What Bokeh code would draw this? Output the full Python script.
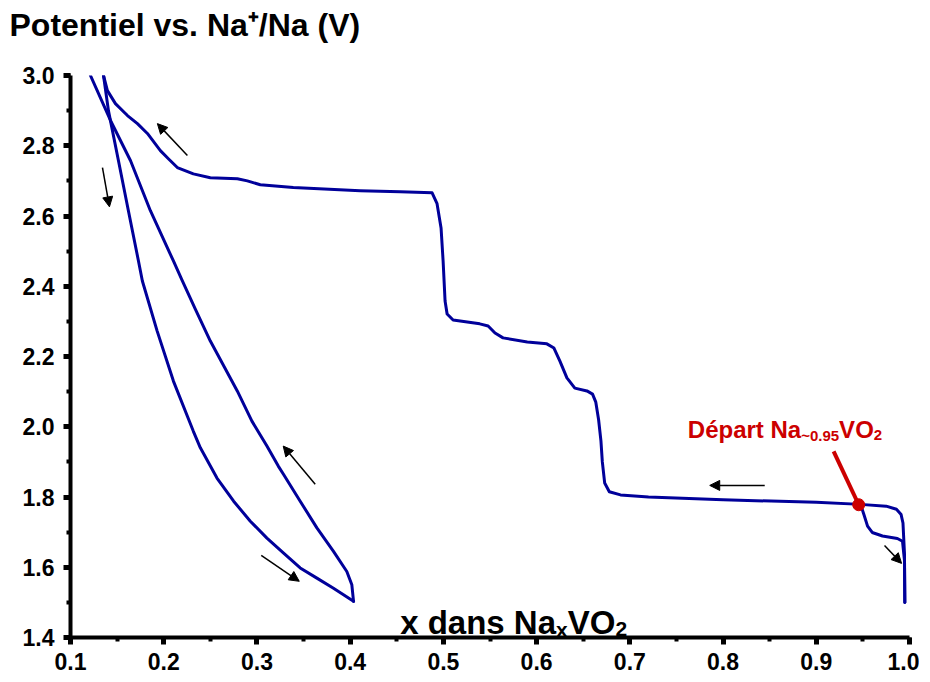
from bokeh.plotting import figure
from bokeh.models import (Range1d, SingleIntervalTicker, NumeralTickFormatter, Label,
                          Arrow, NormalHead, Title)
from bokeh.embed import file_html
from bokeh.resources import INLINE

# ---------------- data ----------------
# initial discharge from the starting composition (Na~0.95VO2) to 1.5 V
dis1_x = [0.9475, 0.951, 0.955, 0.960, 0.971, 0.987, 0.9925, 0.9946, 0.995]
dis1_y = [1.779, 1.751, 1.717, 1.699, 1.689, 1.682, 1.674, 1.620, 1.500]

# first charge (1.5 V -> 3.0 V)
ch1_x = [0.995, 0.9946, 0.993, 0.991, 0.986, 0.975, 0.9475, 0.90, 0.80, 0.72, 0.69,
         0.678, 0.673, 0.6705, 0.669, 0.6665, 0.6635, 0.660, 0.654, 0.641, 0.6325,
         0.625, 0.6186, 0.611, 0.590, 0.564, 0.5554, 0.548, 0.539, 0.5104, 0.504,
         0.5018, 0.4997, 0.4975, 0.4932, 0.4879, 0.4536, 0.4107, 0.339, 0.3036,
         0.2897, 0.279, 0.250, 0.2318, 0.2146, 0.205, 0.1964, 0.1825, 0.1718, 0.1611,
         0.1482, 0.1396, 0.1354]
ch1_y = [1.500, 1.640, 1.726, 1.750, 1.765, 1.774, 1.779, 1.785, 1.792, 1.800, 1.806,
         1.815, 1.840, 1.900, 1.960, 2.020, 2.070, 2.093, 2.102, 2.110, 2.139,
         2.187, 2.224, 2.236, 2.241, 2.253, 2.267, 2.287, 2.293, 2.304, 2.321,
         2.358, 2.472, 2.566, 2.635, 2.666, 2.669, 2.672, 2.681, 2.689,
         2.700, 2.706, 2.709, 2.720, 2.738, 2.763, 2.786, 2.835, 2.863, 2.886,
         2.920, 2.957, 3.000]

# discharge 3.0 V -> 1.5 V
dis2_x = [0.1354, 0.1407, 0.1514, 0.1621, 0.1729, 0.1771, 0.1929, 0.2104, 0.2318,
          0.2393, 0.2571, 0.275, 0.2929, 0.3107, 0.3286, 0.3464, 0.3643, 0.3821, 0.4036]
dis2_y = [3.000, 2.900, 2.758, 2.615, 2.472, 2.415, 2.273, 2.130, 1.987,
          1.940, 1.854, 1.788, 1.731, 1.683, 1.640, 1.598, 1.569, 1.540, 1.503]

# second charge 1.5 V -> 3.0 V
ch2_x = [0.4036, 0.4018, 0.3964, 0.3821, 0.3643, 0.3464, 0.3286, 0.3229, 0.3107,
         0.2946, 0.2789, 0.250, 0.2339, 0.220, 0.2104, 0.1857, 0.1643, 0.1429, 0.1214]
ch2_y = [1.503, 1.550, 1.588, 1.645, 1.712, 1.788, 1.864, 1.888, 1.945,
         2.016, 2.102, 2.244, 2.335, 2.415, 2.472, 2.615, 2.758, 2.872, 3.000]

# starting point marker
start_x = [0.9455]
start_y = [1.778]
pointer_x0 = [0.9186]
pointer_y0 = [1.930]

# direction arrows (tail -> head)
arr_x0 = [0.2254, 0.1343, 0.3625, 0.3046, 0.8447, 0.9732]
arr_y0 = [2.772, 2.738, 1.836, 1.634, 1.833, 1.662]
arr_x1 = [0.1932, 0.1418, 0.3282, 0.3454, 0.7857, 0.9915]
arr_y1 = [2.863, 2.626, 1.945, 1.560, 1.833, 1.611]

x_ticks_interval = 0.1
y_ticks_interval = 0.2

FONT = "Liberation Sans"
BLUE = "#00009A"
RED = "#CC0000"

p = figure(frame_width=839, frame_height=562,
           x_range=Range1d(0.1, 1.0), y_range=Range1d(1.4, 3.0),
           output_backend="svg", toolbar_location=None,
           min_border_left=70, min_border_right=10,
           min_border_top=75, min_border_bottom=40)

p.outline_line_color = None
p.xgrid.visible = False
p.ygrid.visible = False
p.background_fill_color = "white"
p.border_fill_color = "white"

for ax, interval in ((p.xaxis[0], x_ticks_interval), (p.yaxis[0], y_ticks_interval)):
    ax.ticker = SingleIntervalTicker(interval=interval, num_minor_ticks=2)
    ax.formatter = NumeralTickFormatter(format="0.0")
    ax.axis_line_width = 4
    ax.axis_line_color = "black"
    ax.major_tick_line_width = 5
    ax.minor_tick_line_width = 4
    ax.major_tick_in = 0
    ax.minor_tick_in = 0
    ax.major_tick_out = 7
    ax.minor_tick_out = 4
    ax.major_label_text_font = FONT
    ax.major_label_text_font_style = "bold"
    ax.major_label_text_color = "black"
    ax.major_label_text_font_size = "23px"

p.yaxis.major_label_standoff = 9
p.xaxis.major_label_standoff = 8

# spacer between frame and the y quantity written above the plot
p.add_layout(Title(text=" ", text_font_size="1px", standoff=30), "above")
# y quantity, written horizontally above the plot area
p.add_layout(Title(text="Potentiel vs. Na\u207a/Na (V)", text_font=FONT,
                   text_font_style="bold", text_font_size="32px", align="left",
                   offset=-61, standoff=0, text_color="black"), "above")

# curves
for xs, ys in ((dis1_x, dis1_y), (ch1_x, ch1_y), (dis2_x, dis2_y), (ch2_x, ch2_y)):
    p.line(xs, ys, line_color=BLUE, line_width=3, line_join="round", line_cap="round")

# arrows
for a, b, c, d in zip(arr_x0, arr_y0, arr_x1, arr_y1):
    p.add_layout(Arrow(x_start=a, y_start=b, x_end=c, y_end=d, line_width=1.5,
                       line_color="black",
                       end=NormalHead(size=10, fill_color="black", line_color="black", line_width=1)))

# red pointer + dot
p.segment(x0=pointer_x0, y0=pointer_y0, x1=start_x, y1=start_y, line_color=RED, line_width=4)
p.scatter(start_x, start_y, size=12, fill_color=RED, line_color=RED)

def add_rich(x, y, parts, color):
    """parts: list of (text, size_px, x_offset_px, y_offset_px)"""
    for txt, size, dx, dy in parts:
        p.add_layout(Label(x=x, y=y, text=txt, x_offset=dx, y_offset=dy,
                           text_font=FONT, text_font_style="bold",
                           text_font_size=f"{size}px", text_color=color,
                           text_baseline="alphabetic", text_align="left"))

# "x dans Na_x VO_2"
F1, S1 = 33, 21
w1 = 4.724 * F1
add_rich(0.4536, 1.443, [("x dans Na", F1, 0, 0),
                         ("x", S1, w1, -7),
                         ("VO", F1, w1 + 0.556 * S1, 0),
                         ("2", S1, w1 + 0.556 * S1 + 1.445 * F1, -7)], "black")

# "Départ Na_~0.95 VO_2"
F2, S2 = 24, 15
w2 = 4.723 * F2
ws = 2.53 * S2
add_rich(0.7622, 1.993, [("Départ Na", F2, 0, 0),
                         ("~0.95", S2, w2, -6),
                         ("VO", F2, w2 + ws, 0),
                         ("2", S2, w2 + ws + 1.445 * F2, -6)], RED)

open("out.html", "w").write(file_html(p, INLINE))
